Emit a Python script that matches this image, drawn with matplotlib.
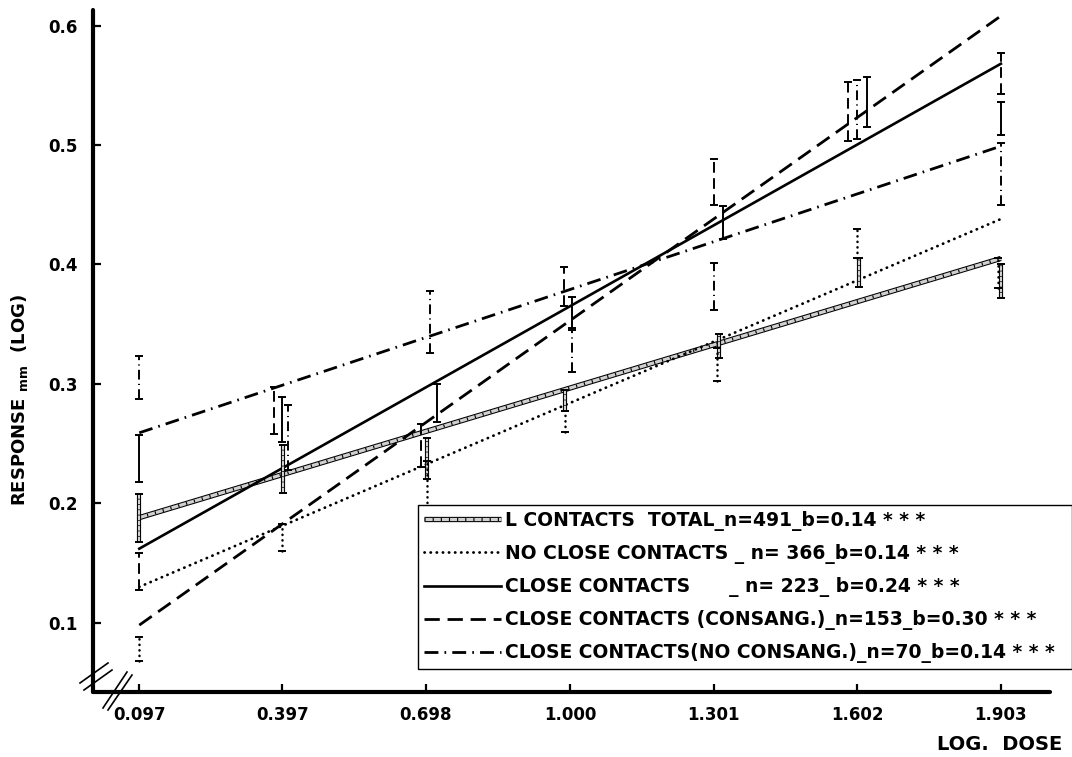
import matplotlib.pyplot as plt
import matplotlib.transforms as mtransforms
from matplotlib.lines import Line2D

# log dose levels and the fitted regression lines (value at first and last dose)
dose = [0.097, 0.397, 0.698, 1.000, 1.301, 1.602, 1.903]
dose_labels = ["0.097", "0.397", "0.698", "1.000", "1.301", "1.602", "1.903"]
fit_dose = [0.097, 1.903]
y_ticks = [0.1, 0.2, 0.3, 0.4, 0.5, 0.6]
y_labels = ["0.1", "0.2", "0.3", "0.4", "0.5", "0.6"]

total_fit = [0.188, 0.405]
noclose_fit = [0.130, 0.438]
close_fit = [0.162, 0.568]
consang_fit = [0.098, 0.608]
noconsang_fit = [0.259, 0.499]

# observed ranges at every dose (bottom / top of the bar)
total_lo = [0.168, 0.209, 0.220, 0.277, 0.322, 0.381, 0.372]
total_hi = [0.208, 0.249, 0.255, 0.295, 0.342, 0.405, 0.400]
noclose_lo = [0.068, 0.160, 0.196, 0.260, 0.302, 0.405, 0.380]
noclose_hi = [0.088, 0.183, 0.235, 0.277, 0.330, 0.430, 0.405]
close_lo = [0.218, 0.251, 0.268, 0.347, 0.421, 0.515, 0.508]
close_hi = [0.257, 0.289, 0.300, 0.373, 0.449, 0.557, 0.536]
consang_lo = [0.127, 0.258, 0.230, 0.365, 0.450, 0.503, 0.543]
consang_hi = [0.158, 0.297, 0.266, 0.398, 0.488, 0.553, 0.577]
noconsang_lo = [0.287, 0.228, 0.326, 0.310, 0.362, 0.505, 0.450]
noconsang_hi = [0.323, 0.282, 0.378, 0.345, 0.401, 0.554, 0.502]

labels = [
    "L CONTACTS  TOTAL_n=491_b=0.14 * * *",
    "NO CLOSE CONTACTS _ n= 366_b=0.14 * * *",
    "CLOSE CONTACTS      _ n= 223_ b=0.24 * * *",
    "CLOSE CONTACTS (CONSANG.)_n=153_b=0.30 * * *",
    "CLOSE CONTACTS(NO CONSANG.)_n=70_b=0.14 * * *",
]

# small sideways shifts (pixels) so overlapping bars stay visible
shift_total = [0, 1, 1, -5, 5, 2, 0]
shift_noclose = [0, 0, 1, -5, 3, 0, -3]
shift_close = [0, 0, 11, 2, 9, 10, 0]
shift_consang = [0, -8, -5, -6, 0, -9, 0]
shift_noconsang = [0, 6, 4, 2, 0, 0, 0]

plt.rcParams['font.family'] = ['DejaVu Sans']
FONT = dict(fontweight='bold')

fig = plt.figure(figsize=(10.72, 7.57), dpi=100)
ax = fig.add_axes([93 / 1072, 65 / 757, 957 / 1072, 682 / 757])

dotted = dict(color='black', dashes=(0.1, 2.1), dash_capstyle='round')
solid = dict(color='black', linestyle='-')
dashed = dict(color='black', dashes=(5.5, 2.8))
dashdot = dict(color='black', dashes=(5, 2.2, 0.6, 2.2))


def ladder(x, y, width, tr):
    # double outline line with rungs, like the hand drawn "total" line
    a = ax.plot(x, y, color='black', lw=width, solid_capstyle='butt', transform=tr)[0]
    b = ax.plot(x, y, color='#d0d0d0', lw=width - 1.5, solid_capstyle='butt', transform=tr)[0]
    c = ax.plot(x, y, color='black', lw=width - 1.5, dashes=(0.35, 2.2),
                dash_capstyle='butt', transform=tr)[0]
    return a, b, c


def bars(lo, hi, shifts, style, lw=1.4, hatched=False):
    for xi, l, h, s in zip(dose, lo, hi, shifts):
        tr = mtransforms.offset_copy(ax.transData, fig=fig, x=s, y=0, units='dots')
        if hatched:
            ladder([xi, xi], [l, h], 3.0, tr)
        else:
            ax.plot([xi, xi], [l, h], lw=lw, transform=tr, **style)
        ax.plot([xi, xi], [l, h], ls='none', marker='_', ms=6, mew=1.4,
                color='black', transform=tr)


# regression lines
h_total = ladder(fit_dose, total_fit, 3.8, ax.transData)
ax.plot(fit_dose, noclose_fit, lw=2.0, **dotted)
ax.plot(fit_dose, close_fit, lw=1.9, **solid)
ax.plot(fit_dose, consang_fit, lw=2.0, **dashed)
ax.plot(fit_dose, noconsang_fit, lw=2.0, **dashdot)

# error bars
bars(total_lo, total_hi, shift_total, None, hatched=True)
bars(noclose_lo, noclose_hi, shift_noclose, dotted, lw=1.8)
bars(close_lo, close_hi, shift_close, solid)
bars(consang_lo, consang_hi, shift_consang, dashed)
bars(noconsang_lo, noconsang_hi, shift_noconsang, dashdot)

ax.set_xlim(0.0, 2.006)
ax.set_ylim(0.042, 0.613)
ax.set_xticks(dose)
ax.set_xticklabels(dose_labels, fontsize=12, **FONT)
ax.set_yticks(y_ticks)
ax.set_yticklabels(y_labels, fontsize=12, **FONT)
ax.tick_params(axis='both', direction='in', length=6, width=1.6)
ax.tick_params(axis='x', pad=10)
ax.tick_params(axis='y', pad=11)
for side in ['top', 'right']:
    ax.spines[side].set_visible(False)
for side in ['left', 'bottom']:
    ax.spines[side].set_linewidth(3.0)
    ax.spines[side].set_capstyle('round')

# axis break marks
def px(x, y):
    return x / 1072, 1 - y / 757

for (x0, y0, x1, y1) in [(80, 683, 108, 663), (84, 690, 112, 670),
                         (103, 708, 127, 672), (108, 710, 132, 675)]:
    (a, b), (c, d) = px(x0, y0), px(x1, y1)
    fig.add_artist(Line2D([a, c], [b, d], color='black', lw=1.2, transform=fig.transFigure))

# legend
handles = [
    h_total,
    Line2D([], [], lw=2.0, **dotted),
    Line2D([], [], lw=1.9, **solid),
    Line2D([], [], lw=2.0, **dashed),
    Line2D([], [], lw=2.0, **dashdot),
]
leg = ax.legend(handles, labels, loc='lower left',
                bbox_to_anchor=(418 / 1072, 88 / 757, 654 / 1072, 162 / 757),
                bbox_transform=fig.transFigure, mode='expand', borderaxespad=0,
                borderpad=0.3, labelspacing=0.7, handlelength=4.1, handletextpad=0.25,
                fancybox=False, framealpha=1, edgecolor='black',
                prop=dict(size=13.5, weight='bold'))
leg.get_frame().set_linewidth(1.0)

fig.text(20 / 1072, 1 - 400 / 757, r"RESPONSE $_{\mathbf{mm}}$  (LOG)", rotation=90,
         ha='center', va='center', fontsize=13, **FONT)
fig.text(1062 / 1072, 1 - 745 / 757, "LOG.  DOSE", ha='right', va='center',
         fontsize=14, **FONT)

fig.savefig('out.png', dpi=100)
